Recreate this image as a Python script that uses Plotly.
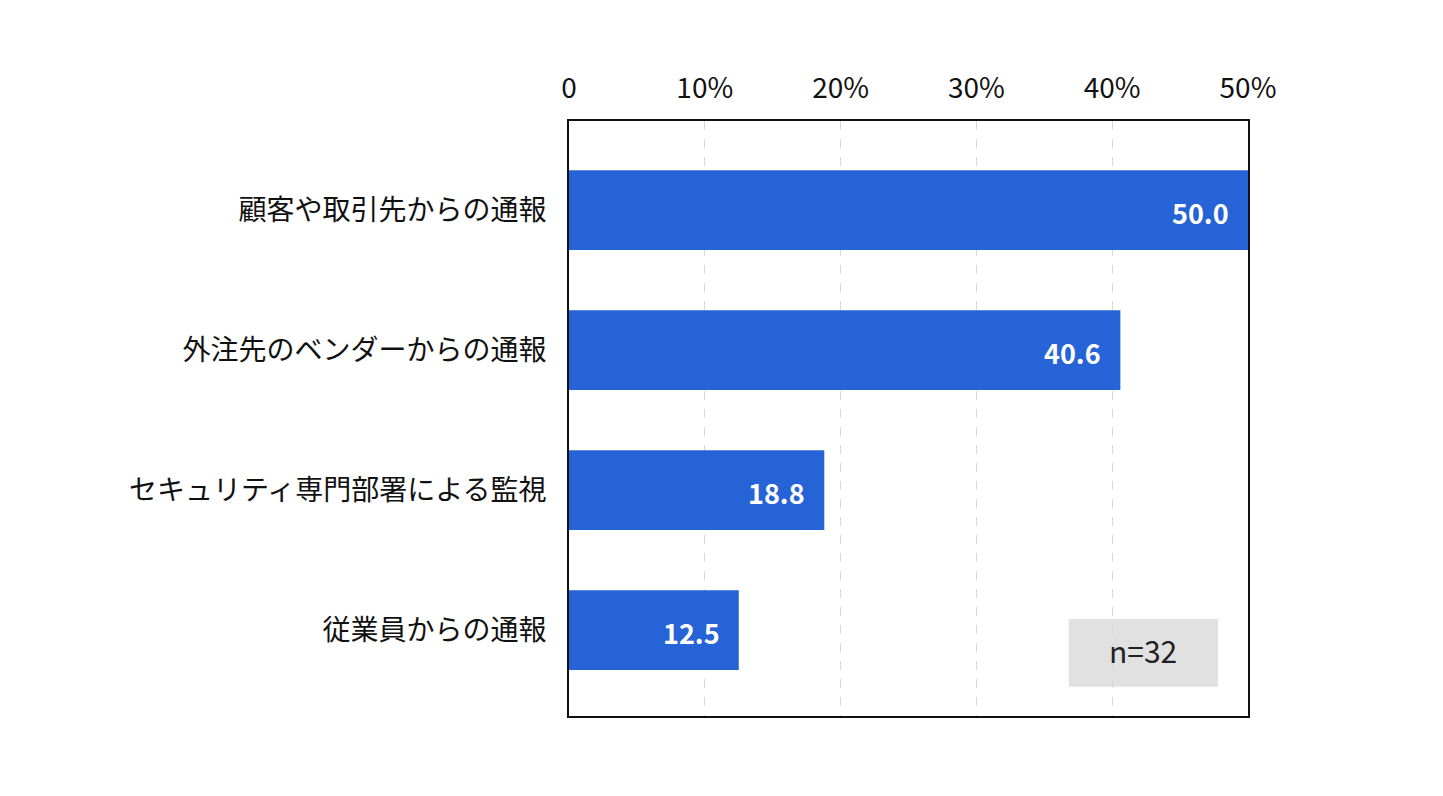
import plotly.graph_objects as go

categories = ["顧客や取引先からの通報", "外注先のベンダーからの通報", "セキュリティ専門部署による監視", "従業員からの通報"]
values = [50.0, 40.6, 18.8, 12.5]
tick_vals = [0, 10, 20, 30, 40, 50]
tick_text = ["0", "10%", "20%", "30%", "40%", "50%"]
note_text = "n=32"

FONT = "Noto Sans CJK JP"
BAR_COLOR = "#2663d6"

fig = go.Figure()
fig.add_trace(go.Bar(
    x=values, y=categories, orientation="h",
    marker=dict(color=BAR_COLOR, line=dict(width=0)),
    width=0.57, hoverinfo="skip",
))

for c, v in zip(categories, values):
    fig.add_annotation(x=v, y=c, xref="x", yref="y", text=f"<b>{v:.1f}</b>",
                       showarrow=False, xanchor="right", xshift=-17, yshift=-2,
                       font=dict(family=FONT, size=27, color="white"))

fig.add_shape(type="rect", xref="x", yref="paper", x0=36.8, x1=47.8, y0=0.049, y1=0.163,
              fillcolor="#e1e1e1", line=dict(width=0), layer="below")
fig.add_annotation(x=42.3, y=0.106, xref="x", yref="paper", text=note_text, showarrow=False,
                   yshift=-21,
                   font=dict(family=FONT, size=30, color="#222222"))

fig.update_layout(
    width=1443, height=796,
    margin=dict(l=561, r=203, t=113, b=88),
    plot_bgcolor="white", paper_bgcolor="white",
    showlegend=False,
    font=dict(family=FONT, color="#111111"),
    xaxis=dict(
        side="top", range=[0, 50], tickvals=tick_vals, ticktext=tick_text,
        tickfont=dict(family=FONT, size=28, color="#111111"),
        showgrid=True, gridcolor="#d8d8d8", griddash="dash", gridwidth=1,
        showline=True, linecolor="#111111", linewidth=2, mirror=True,
        zeroline=False, ticks="", ticklabelstandoff=10,
    ),
    yaxis=dict(
        categoryorder="array", categoryarray=categories,
        range=[3.614, -0.636],
        tickfont=dict(family=FONT, size=28, color="#111111"),
        showline=True, linecolor="#111111", linewidth=2, mirror=True,
        showgrid=False, ticks="", ticklabelstandoff=15,
    ),
)

fig.write_html("out.html")
